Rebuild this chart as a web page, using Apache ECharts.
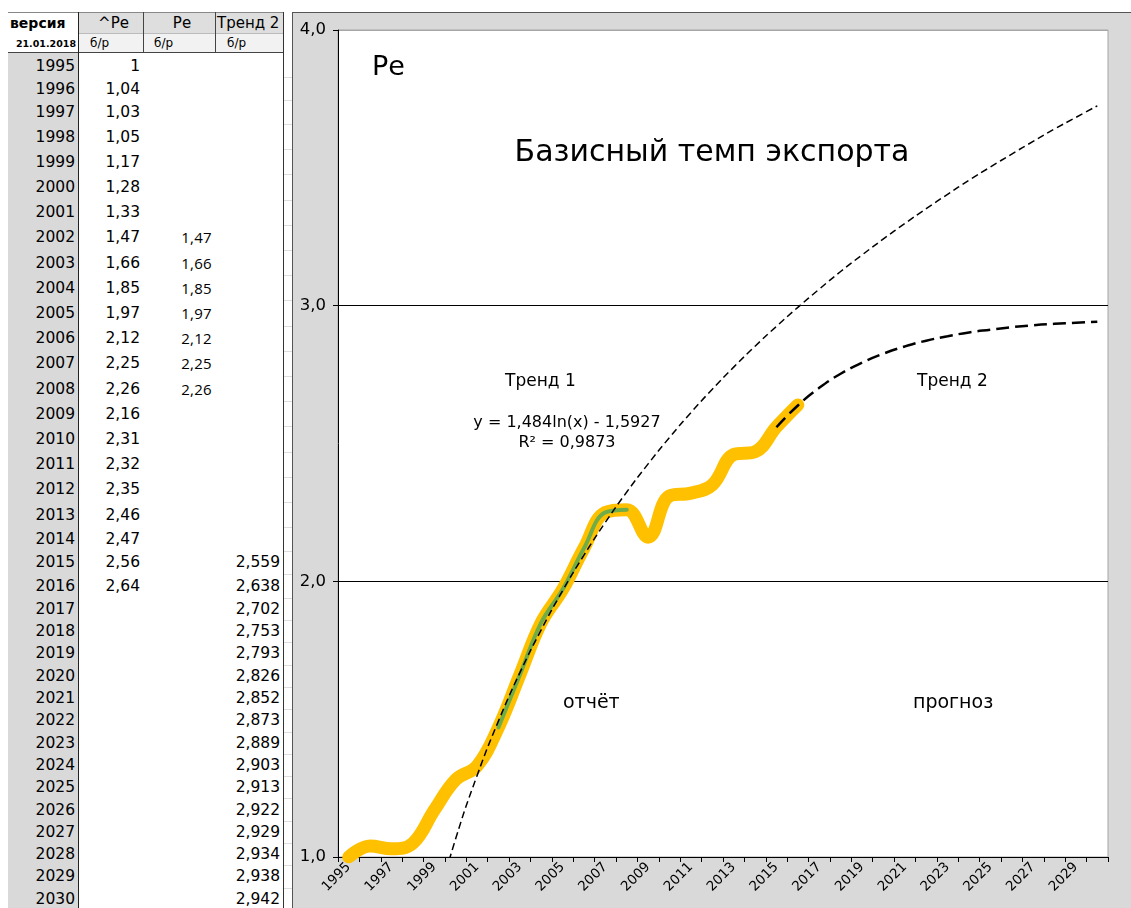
<!DOCTYPE html>
<html>
<head>
<meta charset="utf-8">
<script src="https://cdn.jsdelivr.net/npm/echarts@6/dist/echarts.min.js"></script>
<style>
  body { margin: 0; background: #fff; font-family: "DejaVu Sans", sans-serif; }
  #table { position: absolute; left: 0; top: 0; width: 292px; height: 908px; overflow: hidden; }
  #chart { position: absolute; left: 293px; top: 13px; width: 838px; height: 895px; }
  .c { position: absolute; display: flex; align-items: center; box-sizing: border-box; white-space: nowrap; color: #000; }
  .ln { position: absolute; }
</style>
</head>
<body>
<div id="table"></div>
<div class="ln" style="left:292px;top:12px;width:1px;height:896px;background:#555"></div>
<div class="ln" style="left:292px;top:12px;width:839px;height:1px;background:#555"></div>
<div id="chart"></div>
<script>
// годы (категории оси X)
const years = ['1995', '1996', '1997', '1998', '1999', '2000', '2001', '2002', '2003', '2004',
  '2005', '2006', '2007', '2008', '2009', '2010', '2011', '2012', '2013', '2014', '2015', '2016',
  '2017', '2018', '2019', '2020', '2021', '2022', '2023', '2024', '2025', '2026', '2027', '2028',
  '2029', '2030'];
// ^Ре, 1995–2016
const basePe = [1, 1.04, 1.03, 1.05, 1.17, 1.28, 1.33, 1.47, 1.66, 1.85, 1.97, 2.12, 2.25, 2.26,
  2.16, 2.31, 2.32, 2.35, 2.46, 2.47, 2.56, 2.64];
const basePeStart = '1995';
// Ре, 2002–2008
const pe = [1.47, 1.66, 1.85, 1.97, 2.12, 2.25, 2.26];
const peStart = '2002';
// Тренд 2, 2015–2030
const trend2 = [2.559, 2.638, 2.702, 2.753, 2.793, 2.826, 2.852, 2.873, 2.889, 2.903, 2.913,
  2.922, 2.929, 2.934, 2.938, 2.942];
const trend2Start = '2015';
// Тренд 1 (логарифмический), 1999–2030
const trend1 = [0.796, 1.066, 1.295, 1.493, 1.668, 1.824, 1.966, 2.095, 2.214, 2.324, 2.426,
  2.522, 2.612, 2.697, 2.777, 2.853, 2.925, 2.994, 3.060, 3.124, 3.184, 3.242, 3.298, 3.352,
  3.404, 3.455, 3.503, 3.550, 3.596, 3.641, 3.683, 3.725];
const trend1Start = '1999';
// деления оси Y
const yTicks = [1, 2, 3, 4];

const fmt = v => String(v).replace('.', ',');
function pad(start, vals) {
  const out = years.map(() => null);
  const i0 = years.indexOf(start);
  vals.forEach((v, i) => { out[i0 + i] = v; });
  return out;
}

// ---------- таблица слева ----------
const tbl = document.getElementById('table');
function box(x, y, w, h, css, text) {
  const d = document.createElement('div');
  d.className = 'c';
  d.style.cssText += `left:${x}px;top:${y}px;width:${w}px;height:${h}px;` + (css || '');
  if (text !== undefined) d.textContent = text;
  tbl.appendChild(d);
  return d;
}
function line(x, y, w, h, color) {
  const d = document.createElement('div');
  d.className = 'ln';
  d.style.cssText = `left:${x}px;top:${y}px;width:${w}px;height:${h}px;background:${color}`;
  tbl.appendChild(d);
}

// столбец лет — серый фон
box(8, 52, 70, 856, 'background:#d9d9d9');
// шапка
box(8, 12, 70, 22, 'background:#fff;font-weight:bold;font-size:14px;padding-left:2px', 'версия');
box(78, 12, 65, 22, 'background:#dedede;font-size:15px;justify-content:center;padding-left:6px', '^Ре');
box(143, 12, 72, 22, 'background:#dedede;font-size:15px;justify-content:center;padding-left:6px', 'Ре');
box(215, 12, 68, 22, 'background:#dedede;font-size:15px;padding-left:2px', 'Тренд 2');
box(8, 34, 70, 18, 'background:#fff;font-weight:bold;font-size:9.5px;justify-content:flex-end;padding-right:2px', '21.01.2018');
box(78, 34, 65, 18, 'background:#f2f2f2;font-size:12px;padding-left:12px', 'б/р');
box(143, 34, 72, 18, 'background:#f2f2f2;font-size:12px;padding-left:11px', 'б/р');
box(215, 34, 68, 18, 'background:#f2f2f2;font-size:12px;padding-left:12px', 'б/р');

const rowH = [22, 23, 24].concat(Array(16).fill(25.2), Array(3).fill(23.5), Array(14).fill(22.3));
let rowTop = 55;
const iBase = years.indexOf(basePeStart), iPe = years.indexOf(peStart), iT2 = years.indexOf(trend2Start);
years.forEach((yr, i) => {
  const h = rowH[i];
  box(8, rowTop, 70, h, 'font-size:15.5px;justify-content:flex-end;padding-right:3px', yr);
  const b = basePe[i - iBase];
  if (b !== undefined) box(78, rowTop, 65, h, 'font-size:15.5px;justify-content:flex-end;padding-right:3px', fmt(b));
  const p = pe[i - iPe];
  if (p !== undefined) box(143, rowTop, 72, h, 'font-family:\'Open Sans\';font-size:15px;letter-spacing:0.3px;justify-content:flex-end;padding-right:3px', fmt(p));
  const t = trend2[i - iT2];
  if (t !== undefined) box(215, rowTop, 68, h, 'font-size:15.5px;justify-content:flex-end;padding-right:3px', fmt(t));
  line(284, rowTop + h, 8, 1, '#dcdcdc');
  rowTop += h;
});
// рамки таблицы
line(8, 12, 275, 1, '#888');
line(78, 33, 205, 1, '#bbb');
line(8, 52, 275, 1, '#444');
line(78, 12, 1, 896, '#222');
line(143, 12, 1, 40, '#444');
line(215, 12, 1, 40, '#444');
line(283, 12, 1, 896, '#333');

// ---------- график ----------
const myChart = echarts.init(document.getElementById('chart'));
const ox = 293, oy = 13;
const txt = (x, y, text, size, align) => ({
  type: 'text', x: x - ox, y: y - oy, z: 10,
  style: { text: text, fontSize: size, fontFamily: 'DejaVu Sans', fill: '#000',
    align: align || 'left', verticalAlign: 'middle' }
});

const option = {
  backgroundColor: '#d9d9d9',
  animation: false,
  textStyle: { fontFamily: 'DejaVu Sans' },
  grid: {
    left: 45, top: 17, right: 23, bottom: 51,
    show: true, backgroundColor: '#fff', borderColor: '#a6a6a6', borderWidth: 1
  },
  xAxis: {
    type: 'category',
    data: years,
    boundaryGap: true,
    axisLine: { lineStyle: { color: '#000', width: 1 } },
    axisTick: { show: true, interval: 0, length: 5, lineStyle: { color: '#000' } },
    axisLabel: { interval: 1, rotate: 45, color: '#000', fontSize: 13.5, margin: 8 },
    splitLine: { show: false }
  },
  yAxis: {
    type: 'value',
    min: yTicks[0],
    max: yTicks[yTicks.length - 1],
    interval: 1,
    axisLine: { show: true, lineStyle: { color: '#000', width: 1 } },
    axisTick: { show: true, length: 5, lineStyle: { color: '#000' } },
    axisLabel: { color: '#000', fontSize: 16.5, margin: 12, formatter: v => v.toFixed(1).replace('.', ',') },
    splitLine: { show: true, lineStyle: { color: ['#000', '#000', '#000', '#a6a6a6'], width: 1 } }
  },
  series: [
    {
      name: '^Ре', type: 'line', data: pad(basePeStart, basePe),
      smooth: 0.4, showSymbol: false, z: 2,
      lineStyle: { color: '#FFC000', width: 13, cap: 'round', join: 'round' }
    },
    {
      name: 'Ре', type: 'line', data: pad(peStart, pe),
      smooth: 0.4, showSymbol: false, z: 3,
      lineStyle: { color: '#70AD47', width: 4, cap: 'round' }
    },
    {
      name: 'Тренд 1', type: 'line', data: pad(trend1Start, trend1),
      smooth: true, showSymbol: false, z: 4, clip: true,
      lineStyle: { color: '#000', width: 1.5, type: [7, 4] }
    },
    {
      name: 'Тренд 2', type: 'line', data: pad(trend2Start, trend2),
      smooth: true, showSymbol: false, z: 5,
      lineStyle: { color: '#000', width: 2.5, type: [13, 6] }
    }
  ],
  graphic: [
    txt(372, 68, 'Ре', 27),
    txt(712, 153, 'Базисный темп экспорта', 30, 'center'),
    txt(505, 382, 'Тренд 1', 17),
    txt(567, 423, 'y = 1,484ln(x) - 1,5927', 16, 'center'),
    txt(567, 443, 'R² = 0,9873', 16, 'center'),
    txt(917, 382, 'Тренд 2', 17),
    txt(563, 703, 'отчёт', 19),
    txt(913, 703, 'прогноз', 19)
  ]
};
myChart.setOption(option);
</script>
</body>
</html>
